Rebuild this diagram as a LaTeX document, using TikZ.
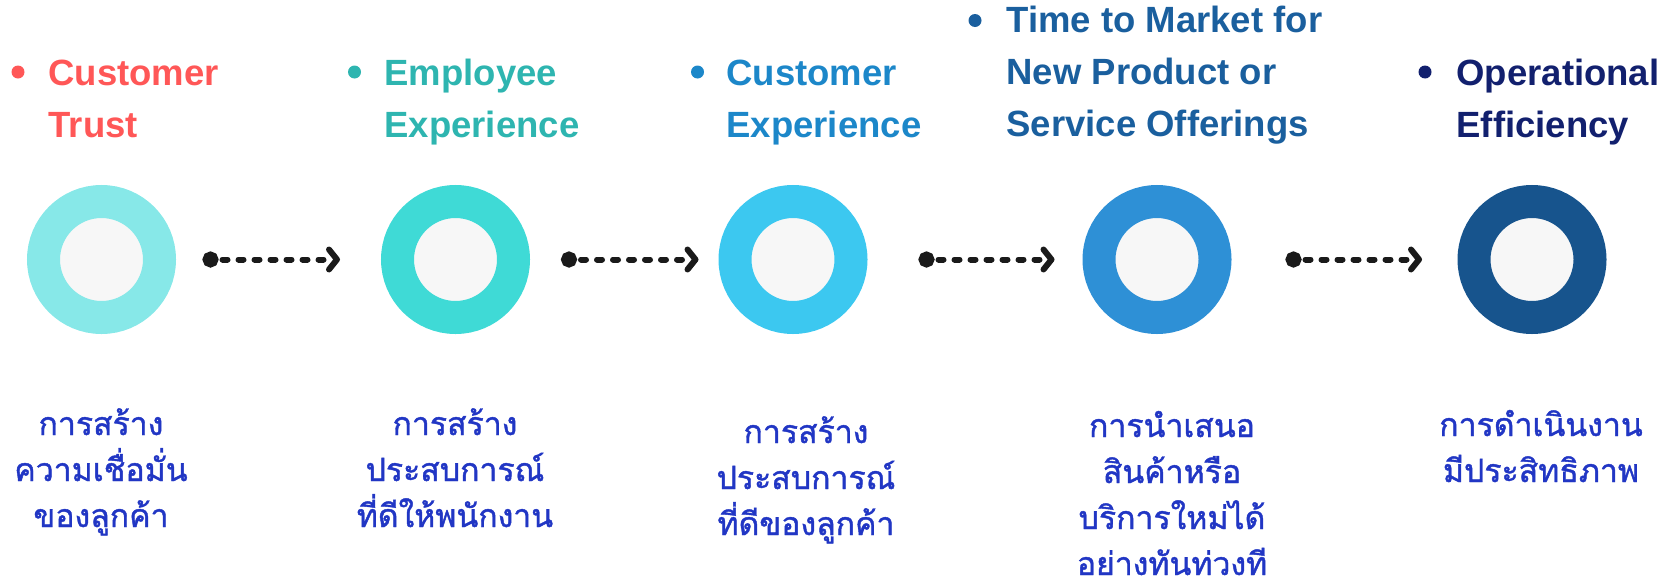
\documentclass[tikz,border=0pt]{standalone}
\usepackage{fontspec}
\setmainfont{Liberation Sans}
\newfontfamily\thaifont[Script=Thai,FakeBold=1.3]{Loma}
\usetikzlibrary{arrows.meta,positioning}

\definecolor{ringA}{HTML}{87E8E8}
\definecolor{ringB}{HTML}{3FDAD6}
\definecolor{ringC}{HTML}{3CC8F0}
\definecolor{ringD}{HTML}{2E90D6}
\definecolor{ringE}{HTML}{17548D}
\definecolor{holefill}{HTML}{F7F7F7}
\definecolor{headA}{HTML}{FF5757}
\definecolor{headB}{HTML}{2EB5B0}
\definecolor{headC}{HTML}{1C87C9}
\definecolor{headD}{HTML}{1A5F9E}
\definecolor{headE}{HTML}{12206E}
\definecolor{thaiblue}{HTML}{2136C4}
\definecolor{arrowdark}{HTML}{1A1A1A}

\begin{document}
\begin{tikzpicture}[
    x=1pt, y=-1pt,
    ring/.style={circle, line width=33pt, fill=holefill, minimum size=116pt, inner sep=0pt, outer sep=16.5pt},
    heading/.style={anchor=base west, align=left, font=\bfseries\fontsize{36.5}{51.7}\selectfont},
    dot/.style={circle, inner sep=0pt, minimum size=13pt},
    thai/.style={anchor=base, align=center, text=thaiblue, font=\thaifont\fontsize{32}{46}\selectfont},
    link/.style={arrowdark, line width=6pt, line cap=round, dash pattern=on 5pt off 11pt, dash phase=9pt,
        {Circle[length=16pt]}-{Straight Barb[length=8pt, width=20pt, line cap=round, line join=round]}}
]
\useasboundingbox (0,0) rectangle (1679,584);

% Rings
\node[ring, draw=ringA] (r1) at (101.5,259.5) {};
\node[ring, draw=ringB] (r2) at (455.5,259.5) {};
\node[ring, draw=ringC] (r3) at (793,259.5) {};
\node[ring, draw=ringD] (r4) at (1157,259.5) {};
\node[ring, draw=ringE] (r5) at (1532,259.5) {};

% Arrows
\draw[link, shorten <=26.5pt, shorten >=41pt] (r1) -- (r2);
\draw[link, shorten <=31pt, shorten >=20pt] (r2) -- (r3);
\draw[link, shorten <=51pt, shorten >=28pt] (r3) -- (r4);
\draw[link, shorten <=54pt, shorten >=35.5pt] (r4) -- (r5);

% Headings (anchored on the last line)
\node[heading, text=headA] (h1) at (45,137) {Customer\\Trust};
\node[heading, text=headB] (h2) at (381,137) {Employee\\Experience};
\node[heading, text=headC] (h3) at (723,137) {Customer\\Experience};
\node[heading, text=headD] (h4) at (1003,136) {Time to Market for\\New Product or\\Service Offerings};
\node[heading, text=headE] (h5) at (1453,137) {Operational\\Efficiency};

% Bullets
\node[dot, fill=headA] (b1) at (18,72) {};
\node[dot, fill=headB] (b2) at (354.5,72) {};
\node[dot, fill=headC] (b3) at (697.5,72) {};
\node[dot, fill=headD] (b4) at (975,20.5) {};
\node[dot, fill=headE] (b5) at (1425,72) {};

% Thai labels (anchored on the last line)
\node[thai] (t1) at (101,527) {การสร้าง\\ความเชื่อมั่น\\ของลูกค้า};
\node[thai] (t2) at (455,527) {การสร้าง\\ประสบการณ์\\ที่ดีให้พนักงาน};
\node[thai] (t3) at (806,535) {การสร้าง\\ประสบการณ์\\ที่ดีของลูกค้า};
\node[thai] (t4) at (1172,575) {การนำเสนอ\\สินค้าหรือ\\บริการใหม่ได้\\อย่างทันท่วงที};
\node[thai] (t5) at (1541,482) {การดำเนินงาน\\มีประสิทธิภาพ};

\end{tikzpicture}
\end{document}
